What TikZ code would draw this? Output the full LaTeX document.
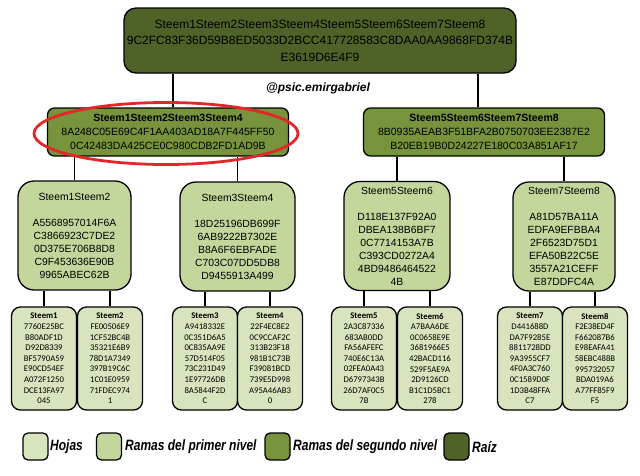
\documentclass[tikz,border=0pt]{standalone}
\usepackage{fontspec}
\setmainfont{Liberation Sans}
\newfontfamily\leaffont{Carlito}
\usepackage{graphicx}
\usepackage{tikz}
\definecolor{rootolive}{HTML}{4F6228}
\definecolor{branchtwo}{HTML}{77933C}
\definecolor{branchone}{HTML}{C3D69B}
\definecolor{leafgreen}{HTML}{D7E4BD}
\definecolor{markred}{HTML}{E3262A}
\tikzset{
  link/.style={black,line width=1.3pt},
  box/.style={draw=black,line width=1.3pt,align=center,inner sep=0pt},
  rootbox/.style={box,fill=rootolive,rounded corners=12pt,minimum width=392pt,
                  minimum height=65pt,font=\fontsize{12}{16.5}\selectfont},
  levtwo/.style={box,fill=branchtwo,rounded corners=7pt,minimum width=241pt,
                 minimum height=48pt,font=\fontsize{10.5}{14}\selectfont},
  levone/.style={box,fill=branchone,rounded corners=16pt,minimum height=109pt,
                 font=\fontsize{10.4}{13}\selectfont},
  leaf/.style={box,fill=leafgreen,rounded corners=9pt,minimum width=65pt,
               minimum height=103pt,font=\leaffont\fontsize{8.7}{10.6}\selectfont},
  keybox/.style={box,rounded corners=5pt,minimum width=25pt,minimum height=27pt},
  keytext/.style={anchor=west,inner sep=0pt,font=\fontsize{15}{15}\selectfont\bfseries\itshape},
  highlight/.style={draw=markred,line width=2.8pt},
}

\begin{document}
\begin{tikzpicture}[x=1pt,y=-1pt]
  \useasboundingbox (0,0) rectangle (640,475);

  \node[rootbox] (ROOT) at (320,40.5)
    {Steem1Steem2Steem3Steem4Steem5Steem6Steem7Steem8\\
     9C2FC83F36D59B8ED5033D2BCC417728583C8DAA0AA9868FD374B\\
     E3619D6E4F9};
  \node[font=\fontsize{12}{12}\selectfont\bfseries\itshape] (TAG) at (318,88) {@psic.emirgabriel};

  \node[levtwo] (LEFT) at (168,132)
    {\textbf{Steem1Steem2Steem3Steem4}\\
     8A248C05E69C4F1AA403AD18A7F445FF50\\
     0C42483DA425CE0C980CDB2FD1AD9B};
  \node[levtwo] (RIGHT) at (484,132)
    {\textbf{Steem5Steem6Steem7Steem8}\\
     8B0935AEAB3F51BFA2B0750703EE2387E2\\
     B20EB19B0D24227E180C03A851AF17};

  \node[levone,minimum width=113pt] (B12) at (74.5,235.5)
    {Steem1Steem2\\[13pt]A5568957014F6A\\C3866923C7DE2\\0D375E706B8D8\\C9F453636E90B\\9965ABEC62B};
  \node[levone,minimum width=115pt] (B34) at (237.5,236.5)
    {Steem3Steem4\\[13pt]18D25196DB699F\\6AB9222B7302E\\B8A6F6EBFADE\\C703C07DD5DB8\\D9455913A499};
  \node[levone,minimum width=106pt] (B56) at (397,236)
    {Steem5Steem6\\[13pt]D118E137F92A0\\DBEA138B6BF7\\0C7714153A7B\\C393CD0272A4\\4BD9486464522\\4B};
  \node[levone,minimum width=102pt] (B78) at (564,236.5)
    {Steem7Steem8\\[13pt]A81D57BA11A\\EDFA9EFBBA4\\2F6523D75D1\\EFA50B22C5E\\3557A21CEFF\\E87DDFC4A};

  \node[leaf] (S1) at (44,358.5)
    {\textbf{Steem1}\\7760E25BC\\B80ADF1D\\D92D8339\\BF5790A59\\E90CD54EF\\A072F1250\\DCE13FA97\\045};
  \node[leaf] (S2) at (110,358.5)
    {\textbf{Steem2}\\FE00506E9\\1CF52BC4B\\35321E6B9\\78D1A7349\\397B19C6C\\1C01E0959\\71FDEC974\\1};
  \node[leaf] (S3) at (205,358.5)
    {\textbf{Steem3}\\A9418332E\\0C351D6A5\\0C835AA9E\\57D514F05\\73C231D49\\1E97726DB\\8A5844F2D\\C};
  \node[leaf] (S4) at (270,358.5)
    {\textbf{Steem4}\\22F4EC8E2\\0C9CCAF2C\\313B23F18\\981B1C73B\\F39081BCD\\739E5D998\\A95A46AB3\\0};
  \node[leaf] (S5) at (364,358.5)
    {\textbf{Steem5}\\2A3C87336\\683AB0DD\\FA56AFEFC\\740E6C13A\\02FEA0A43\\D6797343B\\26D7AF0C5\\7B};
  \node[leaf] (S6) at (430,358.5)
    {\textbf{Steem6}\\A7BAA6DE\\0C0658E9E\\3681966E5\\42BACD116\\529F5AE9A\\2D9126CD\\B1C1D5BC1\\278};
  \node[leaf] (S7) at (530,358.5)
    {\textbf{Steem7}\\D441688D\\DA7F9285E\\8811728DD\\9A3955CF7\\4F0A3C760\\0C1589D0F\\1D3B48FFA\\C7};
  \node[leaf] (S8) at (595,358.5)
    {\textbf{Steem8}\\F2E38ED4F\\F662087B6\\E98EAFA41\\58EBC488B\\995732057\\BDA019A6\\A77FF85F9\\F5};

  % root to second level
  \coordinate (JL) at ([xshift=5pt]LEFT.north);
  \coordinate (JR) at ([xshift=-6pt]RIGHT.north);
  \draw[link] (JL) -- (JL |- ROOT.south);
  \draw[link] (JR) -- (JR |- ROOT.south);
  % second level to first level
  \foreach \a/\b in {LEFT/B12,LEFT/B34,RIGHT/B56,RIGHT/B78}
    \draw[link] (\b.north) -- (\b.north |- \a.south);
  % first level to leaves
  \foreach \a/\b in {B12/S1,B12/S2,B34/S3,B34/S4,B56/S5,B56/S6,B78/S7,B78/S8}
    \draw[link] (\b.north) -- (\b.north |- \a.south);

  \draw[highlight] ([xshift=-2pt,yshift=-1.5pt]LEFT.center) ellipse [x radius=132pt,y radius=31pt];

  % legend
  \node[keybox,fill=leafgreen] (K1) at (35.5,446.5) {};
  \node[keytext] (T1) at (50,447) {\scalebox{0.8}[1]{Hojas}};
  \node[keybox,fill=branchone] (K2) at (109,446.5) {};
  \node[keytext] (T2) at (125,447) {\scalebox{0.8}[1]{Ramas del primer nivel}};
  \node[keybox,fill=branchtwo] (K3) at (277.5,446.5) {};
  \node[keytext] (T3) at (293,447) {\scalebox{0.8}[1]{Ramas del segundo nivel}};
  \node[keybox,fill=rootolive] (K4) at (456.5,446.5) {};
  \node[keytext] (T4) at (472,447) {\scalebox{0.8}[1]{Raíz}};
\end{tikzpicture}
\end{document}
